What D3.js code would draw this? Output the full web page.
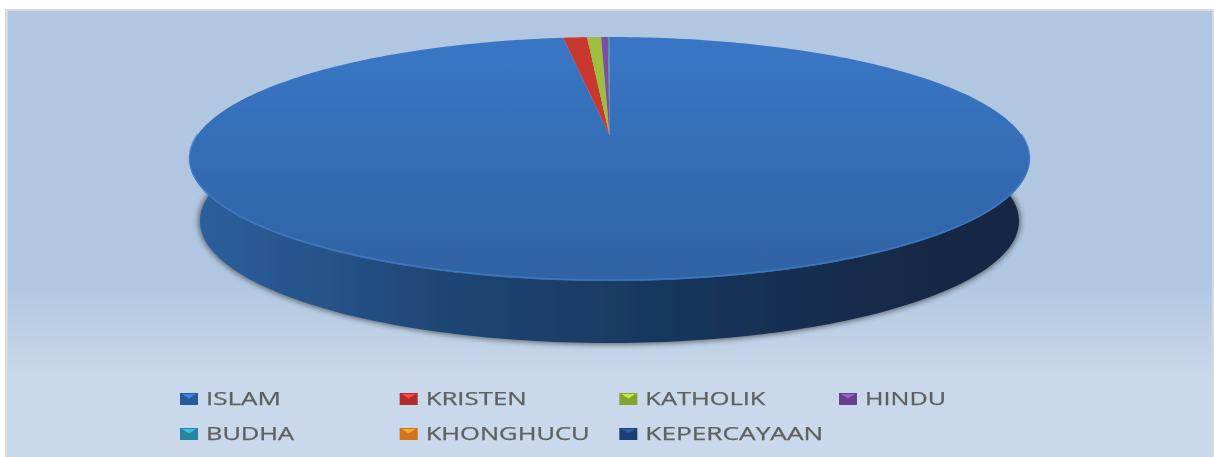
<!DOCTYPE html>
<html>
<head>
<meta charset="utf-8">
<script src="https://cdn.jsdelivr.net/npm/d3@7"></script>
<style>
  html, body { margin: 0; padding: 0; background: #fff; }
  svg { display: block; }
  .legend-label { font-family: "Open Sans", sans-serif; font-size: 18px; fill: #5f5f5f; stroke: #5f5f5f; stroke-width: 0.25; }
</style>
</head>
<body>
<svg id="chart" width="1214" height="457"></svg>
<script>
const categories = ["ISLAM", "KRISTEN", "KATHOLIK", "HINDU", "BUDHA", "KHONGHUCU", "KEPERCAYAAN"]
const shares = [97.85, 1.11, 0.65, 0.32, 0.05, 0.01, 0.01]
const sliceColors = ["#3672bb", "#c8382f", "#9dbf3c", "#7e50a0", "#2e9dbd", "#e5801f", "#1f4a7c"]
const markerColors = ["#2a5fa6", "#b8312f", "#8cab35", "#6f4596", "#2b8ca5", "#d97a1e", "#1d4477"]
const legendWidths = [75, 101, 120, 81, 88, 164, 178]

const svg = d3.select("#chart")
const defs = svg.append("defs")

const gradient = (id, stops, x1, y1, x2, y2) => {
  const g = defs.append("linearGradient").attr("id", id)
    .attr("gradientUnits", "userSpaceOnUse")
    .attr("x1", x1).attr("y1", y1).attr("x2", x2).attr("y2", y2)
  stops.forEach(s => g.append("stop").attr("offset", s[0]).attr("stop-color", s[1]))
}

gradient("bg", [[0, "#b0c6e1"], [0.6, "#b0c6e1"], [0.82, "#c9d8eb"], [1, "#c9d8eb"]], 0, 11, 0, 457)
gradient("top", [[0, "#3977c6"], [1, "#2f62a3"]], 0, 37, 0, 281)
gradient("wall", [[0, "#2c5f9e"], [0.12, "#28568f"], [0.3, "#1f4675"], [0.5, "#1a3b64"], [0.7, "#162f52"], [0.9, "#122844"], [1, "#122845"]], 190, 0, 1028, 0)

defs.append("filter").attr("id", "soft").attr("x", "-5%").attr("y", "-20%").attr("width", "110%").attr("height", "140%")
  .append("feGaussianBlur").attr("stdDeviation", 2.5)
defs.append("filter").attr("id", "edge").attr("x", "-5%").attr("y", "-5%").attr("width", "110%").attr("height", "110%")
  .append("feGaussianBlur").attr("stdDeviation", 0.6)
defs.append("filter").attr("id", "textSoft").attr("x", "-5%").attr("y", "-20%").attr("width", "110%").attr("height", "140%")
  .append("feGaussianBlur").attr("stdDeviation", 0.45)

// frame and backdrop
svg.append("rect").attr("x", 5).attr("y", 9).attr("width", 1209).attr("height", 448).attr("fill", "#d9d9d9")
svg.append("rect").attr("x", 8).attr("y", 11).attr("width", 1204).attr("height", 446).attr("fill", "url(#bg)")

// pie disc seen in perspective, apex sits above the middle of the ellipse
const cx = 609.5, apexY = 135, persp = 0.1967, yNum = -90.7, xNum = 411.8

const project = (angle) => {
  const u = Math.sin(angle), v = Math.cos(angle), w = persp * v + 1
  return [cx + xNum * u / w, (yNum * v + apexY) / w]
}

const arcPoints = (a0, a1) => {
  const n = Math.max(2, Math.ceil((a1 - a0) / 0.02))
  return d3.range(n + 1).map(i => project(a0 + (a1 - a0) * i / n))
}

const line = d3.line()

// side wall: lower rim of the disc, then the lower rim of a slightly smaller base
const frontTop = arcPoints(Math.PI * 0.47, Math.PI * 1.53)
const baseScale = 0.975, baseDrop = 62
const frontBase = frontTop.map(p => [cx + (p[0] - cx) * baseScale, p[1] + baseDrop]).reverse()

svg.append("path")
  .attr("d", line(frontBase) + "Z")
  .attr("fill", "#2a2a2a").attr("opacity", 0.55)
  .attr("stroke", "#2a2a2a").attr("stroke-width", 4)
  .attr("filter", "url(#soft)")

const disc = svg.append("g").attr("filter", "url(#edge)")

disc.append("path")
  .attr("d", line(frontTop.concat(frontBase)) + "Z")
  .attr("fill", "url(#wall)")

// top face
const pie = d3.pie().sort(null).value(d => d)
const slices = pie(shares)

disc.append("g").selectAll("path")
  .data(slices)
  .join("path")
  .attr("d", d => line([[cx, apexY]].concat(arcPoints(d.startAngle, d.endAngle))) + "Z")
  .attr("fill", (d, i) => i === 0 ? "url(#top)" : sliceColors[i])

// lit bevel on the near edge
disc.append("path")
  .attr("d", line(arcPoints(Math.PI * 0.5, Math.PI * 1.5)))
  .attr("fill", "none")
  .attr("stroke", "#3f80cc")
  .attr("stroke-width", 1.5)
  .attr("opacity", 0.75)
  .attr("transform", "translate(0,-1)")

// legend
const colX = d3.scalePoint().domain([0, 1, 2, 3]).range([181, 840])
const rowY = d3.scalePoint().domain([0, 1]).range([399, 434])

const item = svg.append("g").selectAll("g")
  .data(categories)
  .join("g")
  .attr("transform", (d, i) => `translate(${colX(i % 4)},${rowY(Math.floor(i / 4))})`)

const marker = item.append("g").attr("filter", "url(#textSoft)")

marker.append("rect")
  .attr("x", -1).attr("y", -6).attr("width", 18).attr("height", 12)
  .attr("fill", (d, i) => d3.color(markerColors[i]).darker(0.15))

marker.append("path")
  .attr("d", "M1,-5L15,-5L8,-0.5Z")
  .attr("fill", (d, i) => d3.color(markerColors[i]).brighter(0.9))

item.append("text")
  .attr("class", "legend-label")
  .attr("x", 25).attr("y", 6)
  .attr("textLength", (d, i) => legendWidths[i])
  .attr("lengthAdjust", "spacingAndGlyphs")
  .attr("filter", "url(#textSoft)")
  .text(d => d)
</script>
</body>
</html>
